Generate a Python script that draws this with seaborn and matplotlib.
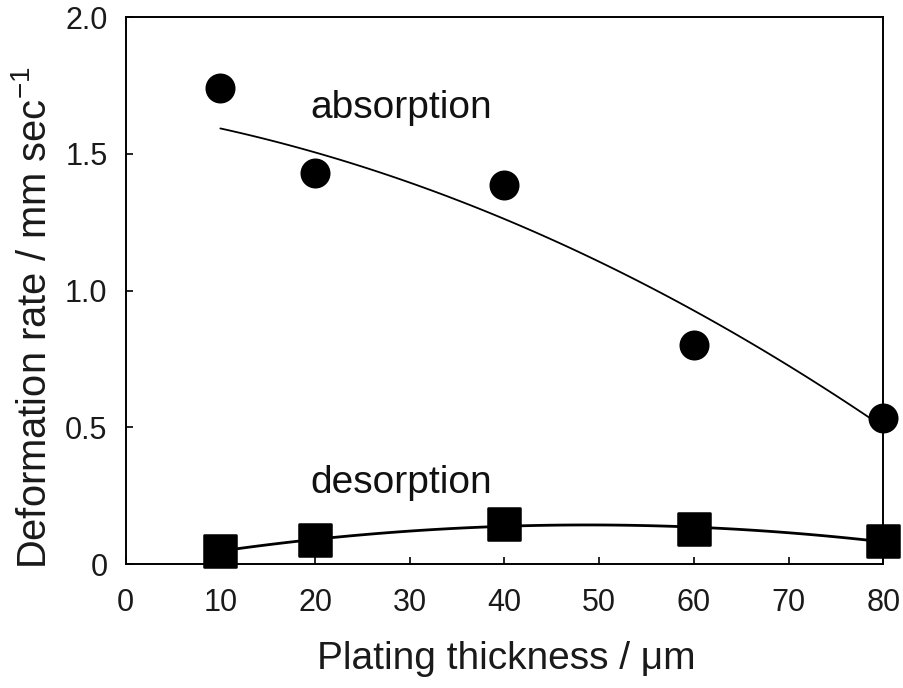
import numpy as np
import pandas as pd
import matplotlib
matplotlib.use("Agg")
import matplotlib.pyplot as plt
import seaborn as sns

thickness = [10, 20, 40, 60, 80]
absorption = [1.74, 1.43, 1.385, 0.80, 0.534]
desorption = [0.048, 0.088, 0.146, 0.128, 0.084]
# trend curve for absorption
fit_thickness = [10, 20, 30, 40, 50, 60, 70, 80]
absorption_fit = [1.594, 1.505, 1.395, 1.262, 1.105, 0.928, 0.728, 0.500]
x_ticks = [0, 10, 20, 30, 40, 50, 60, 70, 80]
y_ticks = [0, 0.5, 1.0, 1.5, 2.0]
y_ticklabels = ["0", "0.5", "1.0", "1.5", "2.0"]

sns.set_theme(style="white")
plt.rcParams['font.family'] = ['Liberation Sans', 'DejaVu Sans']
plt.rcParams['mathtext.fontset'] = 'custom'
plt.rcParams['mathtext.rm'] = 'Liberation Sans'

df = pd.DataFrame({"t": thickness, "abs": absorption, "des": desorption})
dfit = pd.DataFrame({"t": fit_thickness, "abs": absorption_fit})

fig = plt.figure(figsize=(9.04, 6.88), dpi=100)
ax = fig.add_axes([0.139, 0.180, 0.838, 0.795])

sns.regplot(data=dfit, x="t", y="abs", order=2, ci=None, ax=ax,
            scatter=False, line_kws=dict(color="black", lw=1.3))
sns.regplot(data=df, x="t", y="des", order=2, ci=None, ax=ax,
            scatter=False, line_kws=dict(color="black", lw=2.0))
sns.scatterplot(data=df, x="t", y="abs", ax=ax, marker="o", s=400,
                color="black", edgecolor="black", clip_on=False, zorder=5)
sns.scatterplot(data=df, x="t", y="des", ax=ax, marker="s", s=520,
                color="black", edgecolor="black", clip_on=False, zorder=5)

ax.text(29.1, 1.667, "absorption", ha="center", va="center", fontsize=28, color="#111111")
ax.text(29.1, 0.296, "desorption", ha="center", va="center", fontsize=28, color="#111111")

ax.set_xlim(0, 80)
ax.set_ylim(0, 2.0)
ax.set_xticks(x_ticks)
ax.set_yticks(y_ticks)
ax.set_yticklabels(y_ticklabels)
ax.tick_params(axis="both", direction="in", length=5, width=1.2, labelsize=22,
               color="black", labelcolor="#1a1a1a", left=True, bottom=True)
ax.tick_params(axis="x", pad=17)
ax.tick_params(axis="y", pad=13)
ax.set_xlabel("Plating thickness / μm", fontsize=28, color="#1a1a1a")
ax.set_ylabel("Deformation rate / mm sec$^{-1}$", fontsize=28.7, color="#1a1a1a")
ax.xaxis.set_label_coords(0.502, -0.140)
ax.yaxis.set_label_coords(-0.094, 0.45)
for sp in ax.spines.values():
    sp.set_visible(True)
    sp.set_color("black")
    sp.set_linewidth(1.4)

fig.savefig("out.png", dpi=100)
